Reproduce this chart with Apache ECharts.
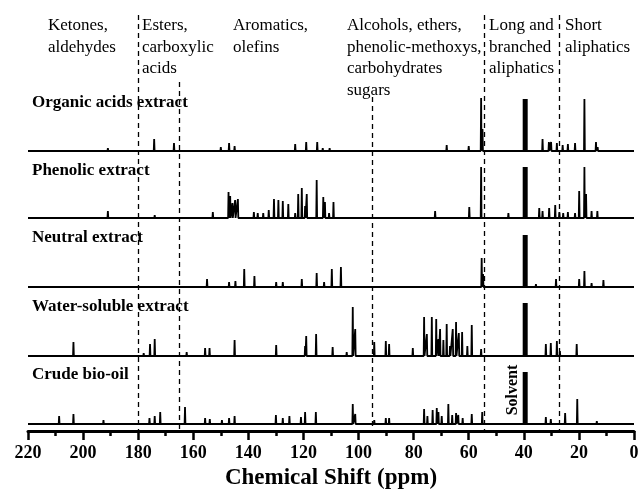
<!DOCTYPE html>
<html>
<head>
<meta charset="utf-8">
<script src="https://cdn.jsdelivr.net/npm/echarts@6/dist/echarts.min.js"></script>
<style>
  html, body { margin: 0; padding: 0; background: #ffffff; }
  #main { width: 640px; height: 491px; }
</style>
</head>
<body>
<div id="main"></div>
<script>
// spectra names, top to bottom
const spectra = ['Organic acids extract', 'Phenolic extract', 'Neutral extract', 'Water-soluble extract', 'Crude bio-oil'];

// peaks: [ppm, height]
const organicPeaks = [
  [191, 3], [174.2, 12], [167, 8], [150, 4], [147, 8], [145, 5], [123, 7], [119, 9], [115, 9],
  [113, 3], [110.5, 3], [68, 6], [60, 5], [55.5, 53], [55, 22],
  [33.2, 12], [30.9, 9], [30.1, 9], [28, 8], [25.9, 6], [24, 7], [21.4, 8], [18, 52], [13.8, 9], [13.2, 4]
];
const phenolicPeaks = [
  [191, 7], [174, 3], [152.9, 6], [147.2, 26], [146.6, 22], [145.8, 15], [144.8, 18], [143.8, 19],
  [138, 6], [136.6, 5], [134.6, 5], [132.6, 8], [130.7, 19], [129.1, 18], [127.5, 17], [125.5, 14],
  [123, 5], [121.9, 24], [120.6, 30], [119.4, 12], [118.8, 24], [115.2, 38], [112.8, 21], [112.2, 16],
  [110.7, 5], [109.1, 16], [72.2, 7], [59.8, 11], [55.5, 51], [45.6, 5],
  [34.4, 10], [33.2, 7], [30.8, 10], [28.6, 13], [27.1, 6], [25.7, 5], [24, 6], [21.4, 5],
  [19.9, 27], [18, 51], [17.4, 24], [15.4, 7], [13.3, 7], [8.7, 2]
];
const neutralPeaks = [
  [155, 8], [147, 5], [144.7, 6], [141.5, 18], [137.8, 11], [129.9, 5], [127.5, 5], [120.6, 8],
  [115.2, 14], [112.5, 5], [109.7, 18], [106.4, 20], [55.3, 29], [54.8, 13],
  [35.6, 3], [28.3, 8], [19.9, 8], [18, 16], [15.4, 4], [11.1, 7]
];
const waterPeaks = [
  [203.5, 14], [178, 3], [175.7, 12], [174, 17], [162.4, 4], [155.7, 8], [154.1, 8], [145, 16],
  [129.9, 11], [119.4, 10], [119, 20], [115.4, 22], [109.4, 9], [104.3, 4], [102.1, 49], [101.2, 27],
  [94.3, 14], [90.1, 15], [88.9, 12], [80.3, 8], [76.2, 39], [75.2, 22], [73.4, 39], [71.8, 37],
  [71, 17], [70.4, 27], [69.2, 16], [68, 32], [66.8, 10], [65.8, 27], [64.6, 34], [63.6, 23],
  [62.4, 24], [60.5, 10], [58.9, 31], [55.5, 7], [32, 12], [30.2, 13], [28, 15], [26.9, 5], [20.8, 12]
];
const crudePeaks = [
  [208.7, 8], [203.5, 10], [192.6, 4], [175.9, 6], [174, 8], [172, 12], [163, 17], [155.7, 6],
  [154, 5], [149.6, 4], [147, 6], [145, 8], [130, 9], [127.5, 6], [125.1, 8], [120.9, 7],
  [119.4, 12], [115.5, 12], [102.1, 20], [101.2, 10], [94.3, 4], [90.1, 6], [88.9, 6],
  [76.2, 15], [75, 8], [73.1, 14], [71.6, 16], [71, 12], [69.8, 8], [67.4, 20], [66, 9],
  [64.6, 11], [63.8, 9], [62.2, 6], [58.9, 10], [55.1, 12], [32, 7], [30.2, 5], [25, 11],
  [20.6, 25], [13.5, 3]
];
const allPeaks = [organicPeaks, phenolicPeaks, neutralPeaks, waterPeaks, crudePeaks];

// solvent (DMSO) peak, same place in every spectrum
const solventPpm = 39.5;
const solventHeights = [52, 51, 52, 53, 52];

// region borders (ppm) and labels
const regionLines = [180, 165, 95, 54.5, 27];
const regionLabels = [
  'Ketones,\naldehydes',
  'Esters,\ncarboxylic\nacids',
  'Aromatics,\nolefins',
  'Alcohols, ethers,\nphenolic-methoxys,\ncarbohydrates\nsugars',
  'Long and\nbranched\naliphatics',
  'Short\naliphatics'
];

// layout: y is counted in pixels above the axis line
const stackOffset = [280, 213, 144, 75, 7];
const lineTops = [416, 349, 334, 416, 416];
const labelX = [48, 142, 233, 347, 489, 565];
const nameY = [103, 171, 238, 307, 375];

function spikes(peaks, off) {
  const sorted = peaks.slice().sort((a, b) => b[0] - a[0]);
  const pts = [[220, off]];
  sorted.forEach(p => {
    pts.push([p[0] + 0.15, off], [p[0], off + p[1]], [p[0] - 0.15, off]);
  });
  pts.push([0, off]);
  return pts;
}

const series = [];
allPeaks.forEach((peaks, i) => {
  series.push({
    type: 'line',
    name: spectra[i],
    data: spikes(peaks, stackOffset[i]),
    symbol: 'none',
    silent: true,
    lineStyle: { color: '#000', width: 1.8 }
  });
  series.push({
    type: 'line',
    data: [[solventPpm, stackOffset[i]], [solventPpm, stackOffset[i] + solventHeights[i]]],
    symbol: 'none',
    silent: true,
    lineStyle: { color: '#000', width: 5 }
  });
});

// dashed region borders
series.push({
  type: 'line',
  data: [],
  markLine: {
    silent: true,
    symbol: 'none',
    label: { show: false },
    lineStyle: { color: '#000', type: [5, 4], width: 1.3 },
    data: regionLines.map((x, i) => [{ coord: [x, lineTops[i]] }, { coord: [x, 0] }])
  }
});

const serif = '"Liberation Serif", "Times New Roman", serif';
const graphic = [];
regionLabels.forEach((t, i) => {
  graphic.push({
    type: 'text', left: labelX[i], top: 15, silent: true,
    style: { text: t, font: '17px ' + serif, fill: '#000', lineHeight: 21.5 }
  });
});
spectra.forEach((t, i) => {
  graphic.push({
    type: 'text', x: 32, y: nameY[i], silent: true,
    style: { text: t, font: 'bold 17px ' + serif, fill: '#000', verticalAlign: 'middle' }
  });
});
graphic.push({
  type: 'text', x: 513, y: 390, rotation: Math.PI / 2, silent: true,
  style: { text: 'Solvent', font: 'bold 16px ' + serif, fill: '#000', align: 'center', verticalAlign: 'middle' }
});

const chart = echarts.init(document.getElementById('main'));
chart.setOption({
  animation: false,
  backgroundColor: '#fff',
  grid: { left: 28, right: 6, top: 15, bottom: 60, outerBoundsMode: 'none' },
  xAxis: {
    type: 'value',
    inverse: true,
    min: 0,
    max: 220,
    interval: 20,
    name: 'Chemical Shift (ppm)',
    nameLocation: 'middle',
    nameGap: 35,
    nameTextStyle: { fontFamily: serif, fontWeight: 'bold', fontSize: 23, color: '#000', verticalAlign: 'top' },
    axisLine: { onZero: false, lineStyle: { color: '#000', width: 3 } },
    axisTick: { length: 9, lineStyle: { color: '#000', width: 2.5 } },
    minorTick: { show: true, splitNumber: 2, length: 5, lineStyle: { color: '#000', width: 2.5 } },
    axisLabel: { margin: 13, fontFamily: serif, fontWeight: 'bold', fontSize: 18, color: '#000' },
    splitLine: { show: false }
  },
  yAxis: { type: 'value', min: 0, max: 416, show: false },
  series: series,
  graphic: graphic
});
</script>
</body>
</html>
